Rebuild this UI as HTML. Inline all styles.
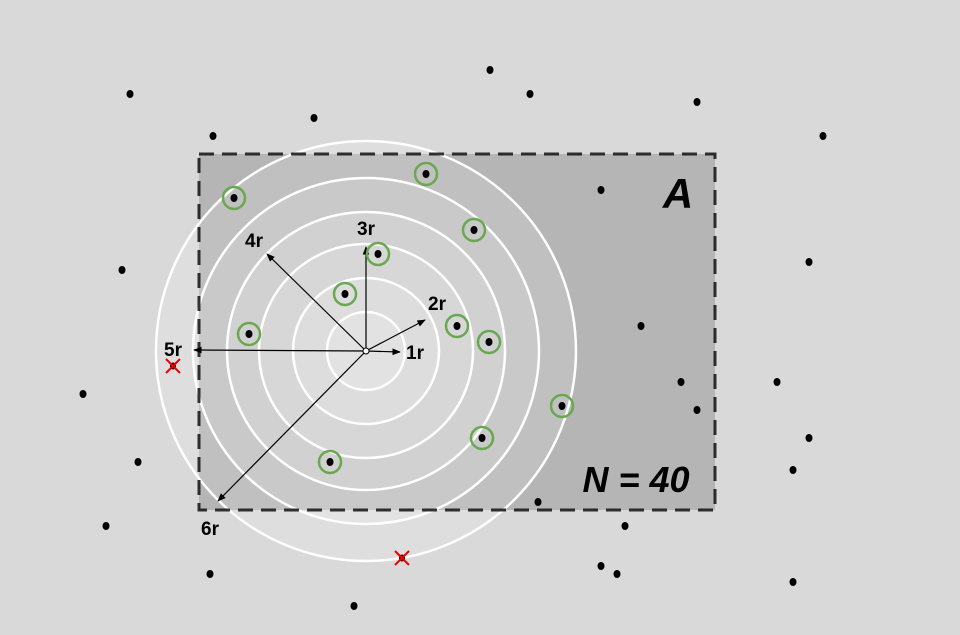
<!DOCTYPE html>
<html><head><meta charset="utf-8"><style>
html,body{margin:0;padding:0;background:#d9d9d9;}
svg{display:block;font-family:"Liberation Sans",Arial,sans-serif;}
</style></head><body>
<svg id="chart" width="960" height="635" viewBox="0 0 960 635" xmlns="http://www.w3.org/2000/svg">
<defs>
<marker id="ah" viewBox="0 0 10 10" refX="9" refY="5" markerWidth="7" markerHeight="7" orient="auto-start-reverse"><path d="M0,1 L10,5 L0,9 z" fill="#000"/></marker>
</defs>
<rect x="0" y="0" width="960" height="635" fill="#d9d9d9"/>
<rect x="199" y="154" width="516" height="356" fill="#b5b5b5"/>
<g id="rings"></g>
<rect x="199" y="154" width="516" height="356" fill="none" stroke="#111" stroke-opacity="0.85" stroke-width="3" stroke-dasharray="15,8"/>
<g id="arrows"></g>
<g id="points"></g>
<text x="678" y="208" text-anchor="middle" font-size="42" font-weight="bold" font-style="italic">A</text>
<text x="636" y="492" text-anchor="middle" font-size="36" font-weight="bold" font-style="italic">N = 40</text>
</svg>
<script>
const center = [366, 351];
const ringRadii = [39, 73, 107, 139, 173, 210];
const ringLabels = ["1r","2r","3r","4r","5r","6r"];
const arrowTips = [[400,352],[425,320],[366,247],[267,254],[194,350],[218,501]];
const labelPos = [[415,359],[437,310],[366,235],[254,247],[173,356],[210,535]];
const insidePts = [[234,198],[426,174],[474,230],[378,254],[345,294],[249,334],[457,326],[489,342],[562,406],[482,438],[330,462]];
const outsidePts = [[130,94],[213,136],[314,118],[490,70],[530,94],[697,102],[823,136],[601,190],[122,270],[809,262],[641,326],[83,394],[681,382],[777,382],[697,410],[809,438],[138,462],[793,470],[538,502],[106,526],[625,526],[210,574],[601,566],[617,574],[354,606],[793,582]];
const rejectedPts = [[173,366],[402,558]];
const NS = "http://www.w3.org/2000/svg";
function mk(tag, attrs, parent){const e=document.createElementNS(NS,tag);for(const k in attrs)e.setAttribute(k,attrs[k]);parent.appendChild(e);return e;}
const rings = document.getElementById('rings');
for (let i = ringRadii.length-1; i >= 0; i--) {
  const c = mk('circle',{cx:center[0],cy:center[1],r:ringRadii[i],fill:'#fff','fill-opacity':0.15,stroke:'#fff','stroke-width':2.5},rings);
  
  
}
const arrows = document.getElementById('arrows');
arrowTips.forEach((t,i)=>{
  const l = mk('line',{x1:center[0],y1:center[1],x2:t[0],y2:t[1],stroke:'#000','stroke-width':1.2,'marker-end':'url(#ah)'},arrows);
  
  
  const tx = mk('text',{x:labelPos[i][0],y:labelPos[i][1],'text-anchor':'middle','font-size':19,'font-weight':'bold'},arrows);
  tx.textContent = ringLabels[i];
  
  
});
const cc = mk('circle',{cx:center[0],cy:center[1],r:3,fill:'#fff',stroke:'#000','stroke-width':1},arrows);


const pts = document.getElementById('points');
insidePts.forEach(p=>{
  const g = mk('circle',{cx:p[0],cy:p[1],r:11,fill:'none',stroke:'#6aa84f','stroke-width':2.5},pts);
  
  
  const d = mk('ellipse',{cx:p[0],cy:p[1],rx:3.5,ry:4,fill:'#000'},pts);
  
  
});
outsidePts.forEach(p=>{
  const d = mk('ellipse',{cx:p[0],cy:p[1],rx:3.5,ry:4,fill:'#000'},pts);
  
  
});
rejectedPts.forEach(p=>{
  const d = mk('ellipse',{cx:p[0],cy:p[1],rx:3,ry:3.5,fill:'#000'},pts);
  
  
  const x = mk('path',{d:`M${p[0]-7},${p[1]-7}L${p[0]+7},${p[1]+7}M${p[0]+7},${p[1]-7}L${p[0]-7},${p[1]+7}`,stroke:'#e00','stroke-width':2},pts);
  
  
});
</script>
</body></html>
